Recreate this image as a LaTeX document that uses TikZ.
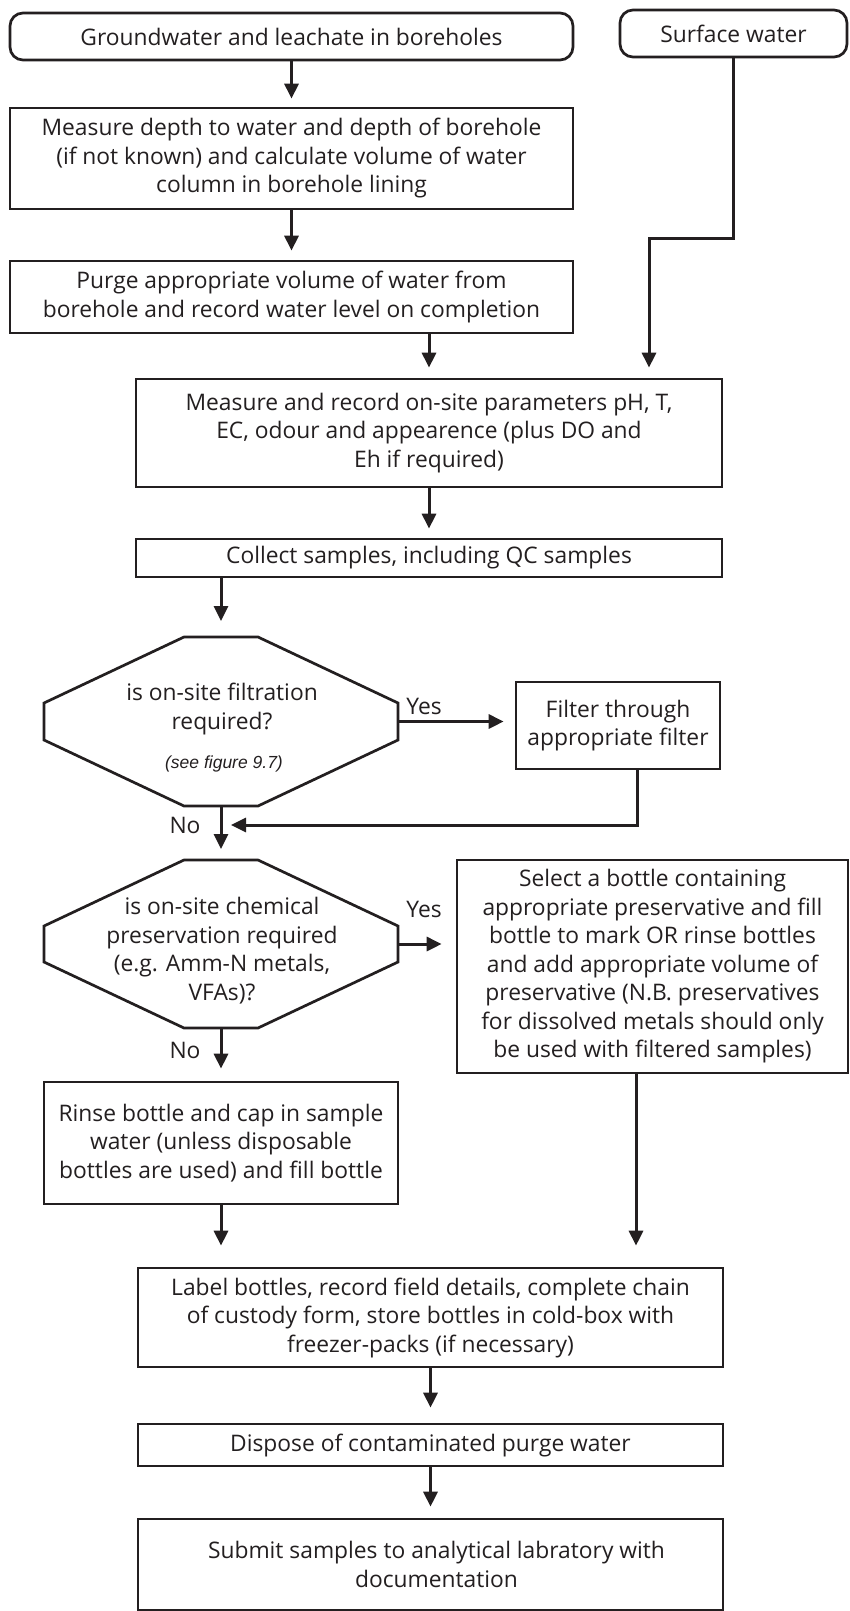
\documentclass[tikz,border=0pt]{standalone}
\usepackage{fontspec}
\setmainfont{Open Sans}
\newfontfamily\notefont{Liberation Sans}
\usetikzlibrary{arrows.meta,calc}
\definecolor{ink}{RGB}{35,31,32}
\tikzset{
  base/.style={align=center, inner sep=0pt, text=ink,
    font=\fontsize{22.8}{28.5}\selectfont},
  box/.style={base, draw=ink, line width=2.7pt},
  rbox/.style={box, rounded corners=13pt},
  octframe/.style={inner sep=0pt, outer sep=0pt},
  note/.style={inner sep=0pt, text=ink, font=\notefont\itshape\fontsize{17.5pt}{20pt}\selectfont},
  arr/.style={draw=ink, line width=3pt, -{Triangle[length=15pt,width=14pt]}},
  octline/.style={draw=ink, line width=2.7pt, line join=miter}
}
\begin{document}
\begin{tikzpicture}[x=1pt, y=-1pt]
\useasboundingbox (0,0) rectangle (850,1611);
\fill[white] (0,0) rectangle (850,1611);

% start points
\node[rbox, minimum width=563pt, minimum height=47pt] (gw) at (291.5,36.5)
  {Groundwater and leachate in boreholes};
\node[rbox, minimum width=227pt, minimum height=47pt] (sw) at (733.5,33.5)
  {Surface water};

% borehole preparation
\node[box, minimum width=563pt, minimum height=101pt] (depth) at (291.5,158.5)
  {Measure depth to water and depth of borehole\\(if not known) and calculate volume of water\\column in borehole lining};
\node[box, minimum width=563pt, minimum height=72pt] (purge) at (291.5,297)
  {Purge appropriate volume of water from\\borehole and record water level on completion};

% field measurements
\node[box, minimum width=586pt, minimum height=108pt] (param) at (429,433)
  {Measure and record on-site parameters pH, T,\\EC, odour and appearence (plus DO and\\Eh if required)};
\node[box, minimum width=586pt, minimum height=38pt] (collect) at (429,558)
  {Collect samples, including QC samples};

% filtration decision
\node[octframe, minimum width=354pt, minimum height=169pt] (q1) at (221,721.5) {};
\node[base] (q1t) at (222,709) {is on-site filtration\\required?};
\node[note] (q1n) at (224,764) {(see figure 9.7)};
\node[box, minimum width=204pt, minimum height=87pt] (filter) at (618,725.5)
  {Filter through\\appropriate filter};

% preservation decision
\node[octframe, minimum width=354pt, minimum height=168pt] (q2) at (221,944) {};
\node[base] (q2t) at (222,950.5)
  {is on-site chemical\\preservation required\\(e.g. Amm-N metals,\\VFAs)?};
\node[box, minimum width=391pt, minimum height=213pt] (select) at (652.5,966.5)
  {Select a bottle containing\\appropriate preservative and fill\\bottle to mark OR rinse bottles\\and add appropriate volume of\\preservative (N.B. preservatives\\for dissolved metals should only\\be used with filtered samples)};
\node[box, minimum width=354pt, minimum height=122pt] (rinse) at (221,1143)
  {Rinse bottle and cap in sample\\water (unless disposable\\bottles are used) and fill bottle};

% final steps
\node[box, minimum width=585pt, minimum height=99pt] (label) at (430.5,1317.5)
  {Label bottles, record field details, complete chain\\of custody form, store bottles in cold-box with\\freezer-packs (if necessary)};
\node[box, minimum width=585pt, minimum height=42pt] (dispose) at (430.5,1445)
  {Dispose of contaminated purge water};
\node[box, minimum width=585pt, minimum height=91pt] (submit) at (430.5,1564.5)
  {\hspace*{12pt}Submit samples to analytical labratory with\\\hspace*{12pt}documentation};

% octagon outlines
\foreach \q in {q1,q2}{
  \draw[octline]
    ([xshift=140pt]\q.north west) -- ([xshift=-140pt]\q.north east)
    -- ([yshift=-66pt]\q.north east) -- ([yshift=66pt]\q.south east)
    -- ([xshift=-140pt]\q.south east) -- ([xshift=140pt]\q.south west)
    -- ([yshift=66pt]\q.south west) -- ([yshift=-66pt]\q.north west) -- cycle;
}

% branch labels
\node[base] (yes1) at (424,706) {Yes};
\node[base] (no1) at (185,825) {No};
\node[base] (yes2) at (424,909) {Yes};
\node[base] (no2) at (185,1050) {No};

% connectors
\coordinate (swk) at (649,238);
\coordinate (fr) at (637,825);
\coordinate (sl) at (636,1073);

\draw[arr, shorten >=8pt] (gw.south) -- (depth.north);
\draw[arr, shorten >=9pt] (depth.south) -- (purge.north);
\draw[arr, shorten >=10pt] (purge.south -| param.north) -- (param.north);
\draw[arr, shorten >=10pt] (sw.south) |- (swk) -- (swk |- param.north);
\draw[arr, shorten >=9pt] (param.south) -- (collect.north);
\draw[arr, shorten >=16pt] (collect.south -| q1.north) -- (q1.north);
\draw[arr, shorten >=11pt] (q1.east) -- (q1.east -| filter.west);
\draw[arr, shorten >=10pt] (fr |- filter.south) -- (fr) -- (fr -| q1.south);
\draw[arr, shorten >=11pt] (q1.south) -- (q2.north);
\draw[arr, shorten >=14pt] (q2.east) -- (q2.east -| select.west);
\draw[arr, shorten >=12pt] (q2.south) -- (rinse.north);
\draw[arr, shorten >=21pt] (rinse.south) -- (rinse.south |- label.north);
\draw[arr, shorten >=21pt] (sl |- select.south) -- (sl |- label.north);
\draw[arr, shorten >=15pt] (label.south) -- (dispose.north);
\draw[arr, shorten >=11pt] (dispose.south) -- (submit.north);
\end{tikzpicture}
\end{document}
